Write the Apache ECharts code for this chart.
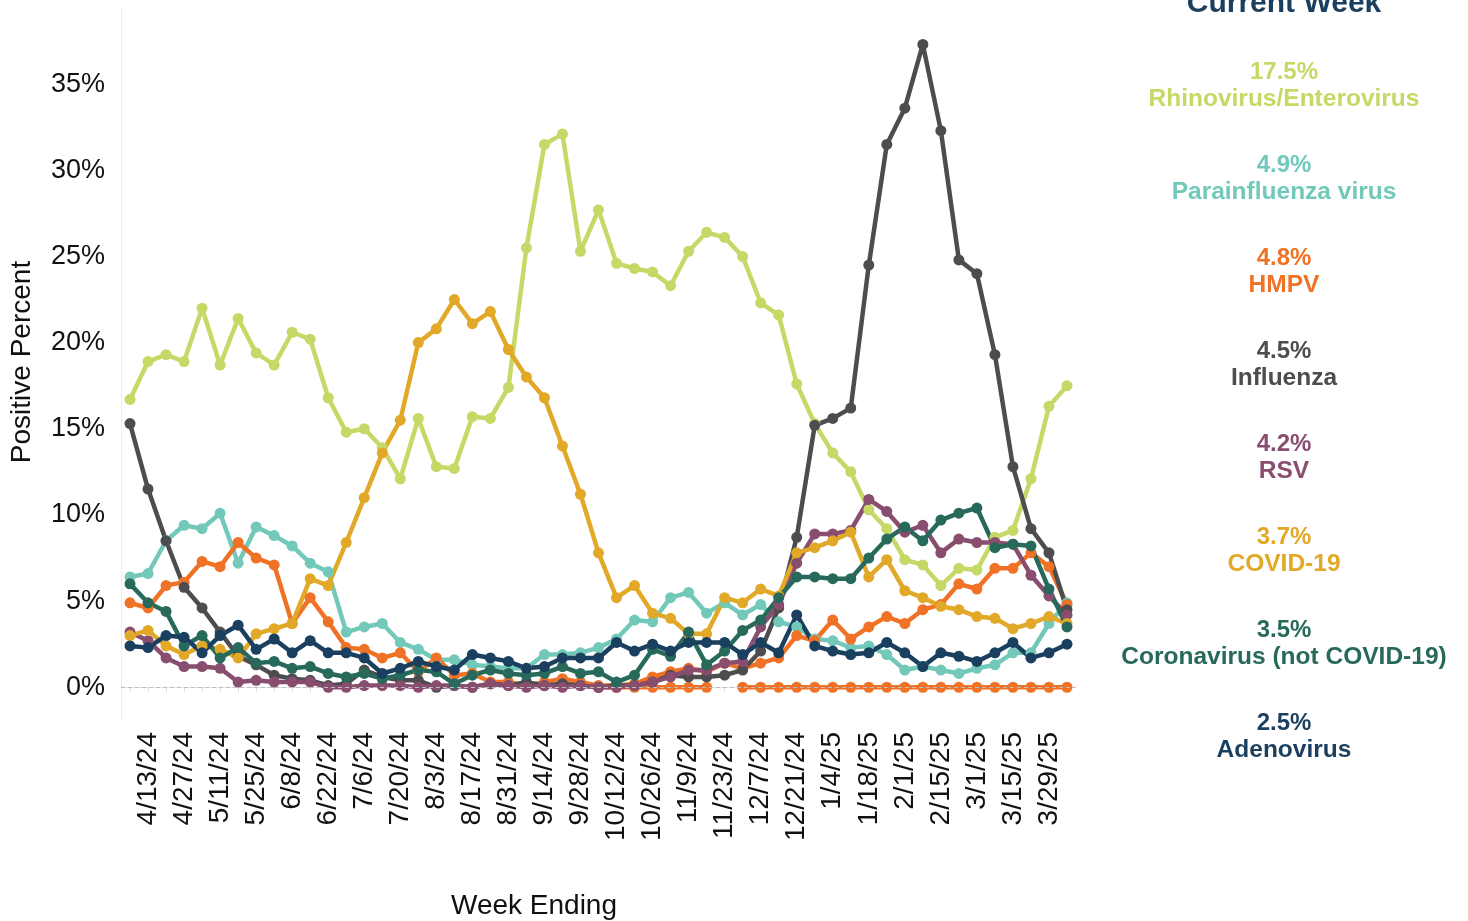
<!DOCTYPE html>
<html>
<head>
<meta charset="utf-8">
<script src="https://cdn.jsdelivr.net/npm/echarts@6/dist/echarts.min.js"></script>
<style>
html,body{margin:0;padding:0;background:#fff;}
#chart{width:1468px;height:921px;}
</style>
</head>
<body>
<div id="chart"></div>
<script>
const weeks = ['4/6/24','4/13/24','4/20/24','4/27/24','5/4/24','5/11/24','5/18/24','5/25/24','6/1/24','6/8/24','6/15/24','6/22/24','6/29/24','7/6/24','7/13/24','7/20/24','7/27/24','8/3/24','8/10/24','8/17/24','8/24/24','8/31/24','9/7/24','9/14/24','9/21/24','9/28/24','10/5/24','10/12/24','10/19/24','10/26/24','11/2/24','11/9/24','11/16/24','11/23/24','11/30/24','12/7/24','12/14/24','12/21/24','12/28/24','1/4/25','1/11/25','1/18/25','1/25/25','2/1/25','2/8/25','2/15/25','2/22/25','3/1/25','3/8/25','3/15/25','3/22/25','3/29/25','4/5/25'];

const rhino = [16.7,18.9,19.3,18.9,22.0,18.7,21.4,19.4,18.7,20.6,20.2,16.8,14.8,15.0,13.9,12.1,15.6,12.8,12.7,15.7,15.6,17.4,25.5,31.5,32.1,25.3,27.7,24.6,24.3,24.1,23.3,25.3,26.4,26.1,25.0,22.3,21.6,17.6,15.3,13.6,12.5,10.3,9.2,7.4,7.1,5.9,6.9,6.8,8.7,9.1,12.1,16.3,17.5];
const parainfluenza = [6.4,6.6,8.5,9.4,9.2,10.1,7.2,9.3,8.8,8.2,7.2,6.7,3.2,3.5,3.7,2.6,2.2,1.6,1.6,1.3,1.2,1.1,1.1,1.9,1.9,2.0,2.3,2.8,3.9,3.8,5.2,5.5,4.3,4.9,4.2,4.8,3.8,3.5,2.8,2.7,2.3,2.4,1.9,1.0,1.2,1.0,0.8,1.1,1.3,2.0,2.0,3.7,4.9];
const hmpv = [4.9,4.6,5.9,6.1,7.3,7.0,8.4,7.5,7.1,3.7,5.2,3.8,2.3,2.2,1.7,2.0,0.9,1.7,0.7,0.8,0.3,0.3,0.1,0.3,0.5,0.3,0.1,0.1,0.2,0.6,0.9,1.1,0.9,1.4,1.1,1.4,1.7,3.0,2.7,3.9,2.8,3.5,4.1,3.7,4.5,4.8,6.0,5.7,6.9,6.9,7.8,7.0,4.8];
const hmpvZero = [null,null,null,null,null,null,null,null,null,null,null,null,null,null,null,null,null,null,null,null,null,null,null,null,null,null,0,0,0,0,0,0,0,null,0,0,0,0,0,0,0,0,0,0,0,0,0,0,0,0,0,0,0];
const influenza = [15.3,11.5,8.5,5.8,4.6,3.2,1.8,1.3,0.7,0.5,0.4,0.1,0.2,1.0,0.6,0.4,0.4,0.0,0.1,0.0,0.2,0.1,0.3,0.1,0.2,0.1,0.0,0.1,0.1,0.3,0.7,0.6,0.6,0.7,1.0,2.1,4.6,8.7,15.2,15.6,16.2,24.5,31.5,33.6,37.3,32.3,24.8,24.0,19.3,12.8,9.2,7.8,4.5];
const rsv = [3.2,2.7,1.7,1.2,1.2,1.1,0.3,0.4,0.3,0.3,0.3,0.0,0.0,0.1,0.1,0.1,0.0,0.1,0.1,0.0,0.2,0.1,0.0,0.1,0.0,0.1,0.0,0.0,0.1,0.3,0.6,1.0,1.0,1.4,1.5,3.5,4.8,7.2,8.9,8.9,9.1,10.9,10.2,9.0,9.4,7.8,8.6,8.4,8.4,8.3,6.5,5.3,4.2];
const covid = [3.0,3.3,2.4,1.9,2.4,2.2,1.7,3.1,3.4,3.7,6.3,5.9,8.4,11.0,13.6,15.5,20.0,20.8,22.5,21.1,21.8,19.6,18.0,16.8,14.0,11.2,7.8,5.2,5.9,4.3,4.0,3.1,3.1,5.2,4.9,5.7,5.3,7.8,8.1,8.5,9.0,6.4,7.4,5.6,5.2,4.7,4.5,4.1,4.0,3.4,3.7,4.1,3.7];
const coronavirus = [6.0,4.9,4.4,2.4,3.0,1.7,2.3,1.4,1.5,1.1,1.2,0.8,0.6,0.8,0.5,0.7,1.0,0.9,0.2,0.7,1.0,0.8,0.7,0.8,1.2,0.8,0.9,0.3,0.7,2.2,1.8,3.2,1.3,2.1,3.3,3.9,5.2,6.4,6.4,6.3,6.3,7.5,8.6,9.3,8.5,9.7,10.1,10.4,8.1,8.3,8.2,5.7,3.5];
const adenovirus = [2.4,2.3,3.0,2.9,2.0,3.0,3.6,2.2,2.8,2.0,2.7,2.0,2.0,1.7,0.8,1.1,1.5,1.2,1.0,1.9,1.7,1.5,1.1,1.2,1.7,1.7,1.7,2.6,2.1,2.5,2.1,2.6,2.6,2.6,1.9,2.6,2.0,4.2,2.4,2.1,1.9,2.0,2.6,2.0,1.2,2.0,1.8,1.5,2.0,2.6,1.7,2.0,2.5];

const yTicks = [0,5,10,15,20,25,30,35];

const legendNames = ['Rhinovirus/Enterovirus','Parainfluenza virus','HMPV','Influenza','RSV','COVID-19','Coronavirus (not COVID-19)','Adenovirus'];
const legendValues = ['17.5%','4.9%','4.8%','4.5%','4.2%','3.7%','3.5%','2.5%'];
const legendColors = ['#c6d866','#72c9b9','#f07226','#4d4d4f','#884d6f','#e2a828','#27695a','#1a3f5f'];

const FONT = '"Liberation Sans", Arial, sans-serif';

function lineSeries(name, data, color, extra) {
  return Object.assign({
    name: name,
    type: 'line',
    data: data,
    symbol: 'circle',
    symbolSize: 11,
    connectNulls: false,
    lineStyle: {width: 4.5, color: color},
    itemStyle: {color: color},
    emphasis: {disabled: true},
    animation: false
  }, extra || {});
}

const series = [
  lineSeries('Rhinovirus/Enterovirus', rhino, legendColors[0], {
    markLine: {
      silent: true, symbol: 'none', label: {show: false},
      lineStyle: {type: [4, 3], color: '#bdbdbd', width: 1},
      data: [{yAxis: 0}]
    }
  }),
  lineSeries('Parainfluenza virus', parainfluenza, legendColors[1]),
  lineSeries('HMPV zero', hmpvZero, legendColors[2]),
  lineSeries('HMPV', hmpv, legendColors[2]),
  lineSeries('Influenza', influenza, legendColors[3]),
  lineSeries('RSV', rsv, legendColors[4]),
  lineSeries('COVID-19', covid, legendColors[5]),
  lineSeries('Coronavirus (not COVID-19)', coronavirus, legendColors[6]),
  lineSeries('Adenovirus', adenovirus, legendColors[7])
];

const graphics = [{
  type: 'text',
  style: {text: 'Current Week', x: 1284, y: 4, align: 'center', verticalAlign: 'middle',
    font: 'bold 30px ' + FONT, fill: '#1a3f5f'}
}, {
  type: 'text',
  style: {text: 'Week Ending', x: 534, y: 906, align: 'center', verticalAlign: 'middle',
    font: '28px ' + FONT, fill: '#111'}
}, {
  type: 'text',
  x: 22, y: 362, rotation: Math.PI / 2,
  style: {text: 'Positive Percent', x: 0, y: 0, align: 'center', verticalAlign: 'middle',
    font: '28px ' + FONT, fill: '#111'}
}];
legendNames.forEach(function (n, i) {
  const vy = 72 + 93 * i;
  graphics.push({type: 'text', style: {text: legendValues[i], x: 1284, y: vy, align: 'center', verticalAlign: 'middle', font: 'bold 24px ' + FONT, fill: legendColors[i]}});
  graphics.push({type: 'text', style: {text: n, x: 1284, y: vy + 27, align: 'center', verticalAlign: 'middle', font: 'bold 24.5px ' + FONT, fill: legendColors[i]}});
});

const chart = echarts.init(document.getElementById('chart'), null, {renderer: 'canvas'});
chart.setOption({
  animation: false,
  backgroundColor: '#fff',
  grid: {left: 121, right: 392, top: 10, bottom: 201, containLabel: false, outerBoundsMode: 'none'},
  xAxis: {
    type: 'category',
    data: weeks,
    boundaryGap: true,
    axisLine: {show: true, lineStyle: {color: '#e6e6e6', width: 1}},
    axisTick: {show: true, interval: 0, alignWithLabel: true, length: 5, lineStyle: {color: '#e0e0e0'}},
    axisLabel: {
      interval: function (i) { return i % 2 === 1; },
      rotate: 90, margin: 12,
      fontFamily: FONT, fontSize: 28, color: '#111'
    },
    splitLine: {show: false}
  },
  yAxis: {
    type: 'value',
    min: -1.9, max: 39.3,
    axisLine: {show: true, lineStyle: {color: '#ececec', width: 1}},
    axisTick: {show: false},
    splitLine: {show: false},
    axisLabel: {
      customValues: yTicks,
      formatter: function (v) { return Math.round(v) + '%'; },
      margin: 16, fontFamily: FONT, fontSize: 27, color: '#111'
    }
  },
  series: series,
  graphic: graphics
});
</script>
</body>
</html>
